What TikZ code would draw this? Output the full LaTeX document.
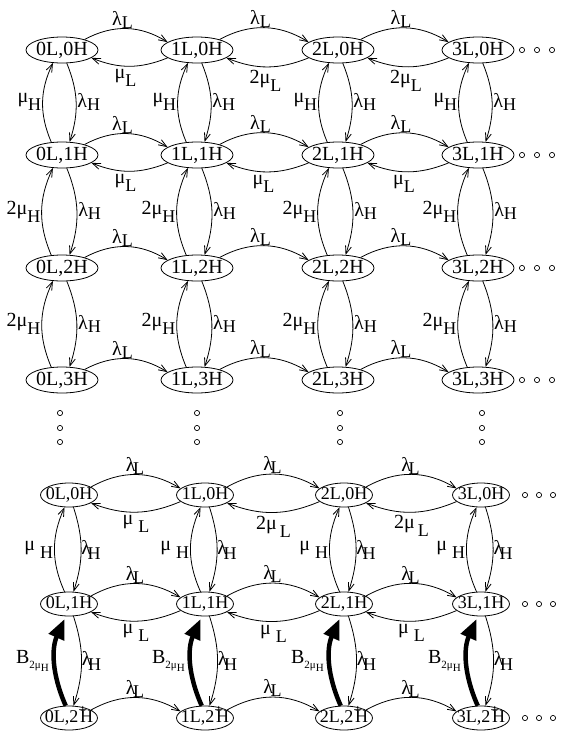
\documentclass[tikz,border=0pt]{standalone}
\usepackage{fontspec}
\setmainfont{Liberation Serif}
\usetikzlibrary{shapes.geometric,arrows.meta}
% lowered subscripts
\newcommand\sL[1]{\raisebox{-0.15em}{\fontsize{18}{18}\selectfont #1}}
\newcommand\sH[1]{\raisebox{-0.4em}{\fontsize{18}{18}\selectfont #1}}
\newcommand\sM[1]{\raisebox{-0.25em}{\fontsize{18}{18}\selectfont #1}}
\newcommand\Bsub{B\raisebox{-0.25em}{\fontsize{11}{11}\selectfont 2μ\raisebox{-0.25em}{H}}}
\newcommand\twoplus{2\smash{\raisebox{0.4em}{\fontsize{16}{16}\selectfont +}}\kern-0.4em H}
% fixed-width state labels
\newcommand\tbox[1]{\makebox[40pt]{#1}}
\newcommand\bbox[1]{\makebox[34pt]{#1}}
\begin{document}
\begin{tikzpicture}[x=1pt,y=1pt,
  st/.style={draw, ellipse, line width=0.8pt, minimum width=72pt, minimum height=26pt, inner sep=0pt,
             font=\fontsize{20}{20}\selectfont},
  sb/.style={draw, ellipse, line width=0.8pt, minimum width=57pt, minimum height=24pt, inner sep=0pt,
             font=\fontsize{18}{18}\selectfont},
  arr/.style={-{Straight Barb[length=8pt,width=6pt]}, line width=0.8pt},
  big/.style={-{Triangle[length=20pt,width=16pt]}, line width=4.5pt, shorten >=3pt},
  lab/.style={font=\fontsize{20}{20}\selectfont, inner sep=1pt},
  dot/.style={draw, line width=0.7pt}
]
\useasboundingbox (0,0) rectangle (561,-731);

% ---------- upper lattice ----------
\foreach \c/\x in {0/62,1/197,2/338,3/478}{
  \node[st] (t\c0) at (\x,-50)  {\tbox{\c L,0H}};
  \node[st] (t\c1) at (\x,-155) {\tbox{\c L,1H}};
  \node[st] (t\c2) at (\x,-268) {\tbox{\c L,2H}};
  \node[st] (t\c3) at (\x,-380) {\tbox{\c L,3H}};
}

% arrivals of low-priority customers
\foreach \a/\b in {0/1,1/2,2/3}{
  \foreach \r in {0,1,2,3}{
    \draw[arr] (t\a\r.25) to[bend left=30] node[lab,anchor=south,xshift=-4pt,inner sep=0pt] {λ\sL{L}} (t\b\r.165);
  }
}
% low-priority services
\draw[arr] (t10.195) to[bend left=22] node[lab,anchor=north,xshift=-4pt,inner sep=3pt] {μ\sH{L}} (t00.345);
\draw[arr] (t20.195) to[bend left=22] node[lab,anchor=north,xshift=-2pt,inner sep=3pt] {2μ\sH{L}} (t10.345);
\draw[arr] (t30.195) to[bend left=22] node[lab,anchor=north,xshift=-2pt,inner sep=3pt] {2μ\sH{L}} (t20.345);
\foreach \a/\b in {0/1,1/2,2/3}{
  \draw[arr] (t\b1.195) to[bend left=22] node[lab,anchor=north,xshift=-4pt,inner sep=3pt] {μ\sH{L}} (t\a1.345);
}
% high-priority arrivals and services
\foreach \c in {0,1,2,3}{
  \draw[arr] (t\c1.130) to[bend left=24] node[lab,anchor=east] {μ\sH{H}} (t\c0.235);
  \draw[arr] (t\c0.290) to[bend left=20] node[lab,anchor=west] {λ\sL{H}} (t\c1.60);
  \draw[arr] (t\c2.130) to[bend left=24] node[lab,anchor=east] {2μ\sH{H}} (t\c1.235);
  \draw[arr] (t\c1.290) to[bend left=20] node[lab,anchor=west] {λ\sL{H}} (t\c2.60);
  \draw[arr] (t\c3.130) to[bend left=24] node[lab,anchor=east] {2μ\sH{H}} (t\c2.235);
  \draw[arr] (t\c2.290) to[bend left=20] node[lab,anchor=west] {λ\sL{H}} (t\c3.60);
}
% continuation marks
\foreach \y in {-50,-155,-268,-380}{
  \foreach \x in {522,537,552} \draw[dot] (\x,\y) circle (2.6);
}
\foreach \x in {60,197,340,482}{
  \foreach \y in {-413,-428,-442} \draw[dot] (\x,\y) circle (2.6);
}

% ---------- lower lattice ----------
\foreach \c/\x in {0/69,1/205,2/344,3/481}{
  \node[sb] (b\c0) at (\x,-495) {\bbox{\c L,0H}};
  \node[sb] (b\c1) at (\x,-604) {\bbox{\c L,1H}};
  \node[sb] (b\c2) at (\x,-718) {\bbox{\c L,\twoplus}};
}
\foreach \a/\b in {0/1,1/2,2/3}{
  \foreach \r in {0,1,2}{
    \draw[arr] (b\a\r.20) to[bend left=30] node[lab,anchor=south,xshift=-1pt,inner sep=0pt] {λ\kern-0.12em\sL{L}} (b\b\r.165);
  }
}
\draw[arr] (b10.195) to[bend left=22] node[lab,anchor=north,inner sep=3pt] {μ\kern0.25em\sH{L}} (b00.340);
\draw[arr] (b20.195) to[bend left=22] node[lab,anchor=north,inner sep=3pt] {2μ\kern0.15em\sH{L}} (b10.340);
\draw[arr] (b30.195) to[bend left=22] node[lab,anchor=north,inner sep=3pt] {2μ\kern0.15em\sH{L}} (b20.340);
\foreach \a/\b in {0/1,1/2,2/3}{
  \draw[arr] (b\b1.195) to[bend left=22] node[lab,anchor=north,inner sep=3pt] {μ\kern0.25em\sH{L}} (b\a1.340);
}
\foreach \c in {0,1,2,3}{
  \draw[arr] (b\c1.110) to[bend left=24] node[lab,anchor=east] {μ\kern0.25em\sH{H}} (b\c0.250);
  \draw[arr] (b\c0.290) to[bend left=18] node[lab,anchor=west,inner sep=0pt] {λ\kern-0.18em\sM{H}} (b\c1.70);
  \draw[big] (b\c2.105) to[bend left=24] node[lab,anchor=east,inner sep=4pt] {\Bsub} (b\c1.255);
  \draw[arr] (b\c1.290) to[bend left=18] node[lab,anchor=west,inner sep=0pt] {λ\kern-0.18em\sM{H}} (b\c2.70);
}
\foreach \y in {-495,-604,-718}{
  \foreach \x in {525,539,553} \draw[dot] (\x,\y) circle (2.6);
}
\end{tikzpicture}
\end{document}
